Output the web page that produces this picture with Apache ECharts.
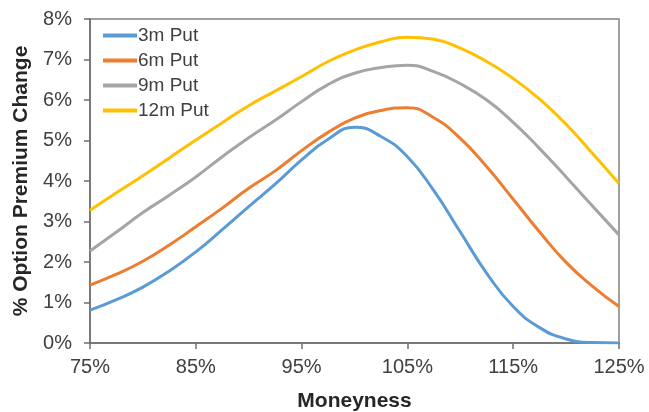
<!DOCTYPE html>
<html>
<head>
<meta charset="utf-8">
<script src="https://cdn.jsdelivr.net/npm/echarts@6/dist/echarts.min.js"></script>
<style>
  html, body { margin: 0; padding: 0; background: #fff; }
  #chart { width: 649px; height: 412px; }
</style>
</head>
<body>
<div id="chart"></div>
<script>
// Moneyness grid (% of spot), step 2.5
const moneyness = [75, 77.5, 80, 82.5, 85, 87.5, 90, 92.5, 95, 97.5, 100, 102.5, 105, 107.5, 110, 112.5, 115, 117.5, 120, 122.5, 125];

// Option premium change (%) per maturity
const put3m  = [0.81, 1.07, 1.38, 1.78, 2.25, 2.80, 3.37, 3.92, 4.52, 5.03, 5.33, 5.10, 4.60, 3.76, 2.74, 1.72, 0.90, 0.38, 0.10, 0.01, 0.00];
const put6m  = [1.43, 1.70, 2.02, 2.42, 2.87, 3.33, 3.82, 4.25, 4.75, 5.20, 5.55, 5.74, 5.81, 5.56, 5.05, 4.35, 3.55, 2.74, 1.99, 1.40, 0.90];
const put9m  = [2.27, 2.74, 3.22, 3.65, 4.10, 4.60, 5.07, 5.50, 5.96, 6.38, 6.66, 6.80, 6.86, 6.70, 6.40, 6.00, 5.45, 4.80, 4.10, 3.38, 2.67];
const put12m = [3.28, 3.71, 4.13, 4.57, 5.01, 5.44, 5.86, 6.22, 6.58, 6.95, 7.23, 7.44, 7.55, 7.50, 7.28, 6.95, 6.53, 6.02, 5.40, 4.68, 3.94];

const seriesNames = ['3m Put', '6m Put', '9m Put', '12m Put'];
const seriesColors = ['#5B9BD5', '#ED7D31', '#A5A5A5', '#FFC000'];
const seriesData = [put3m, put6m, put9m, put12m];

const chart = echarts.init(document.getElementById('chart'));
const textColor = '#404040';
const font = 'Liberation Sans, Arial, sans-serif';

chart.setOption({
  animation: false,
  backgroundColor: '#fff',
  grid: {
    left: 90, right: 30, top: 19, bottom: 69,
    containLabel: false,
    outerBoundsMode: 'none',
    show: true, borderColor: '#808080', borderWidth: 1.5
  },
  legend: {
    left: 98, top: 21,
    orient: 'vertical',
    itemWidth: 34, itemHeight: 4, itemGap: 6,
    icon: 'rect',
    textStyle: { color: textColor, fontSize: 19, fontFamily: font, padding: [0, 0, 0, -4] },
    data: seriesNames
  },
  xAxis: {
    type: 'category',
    data: moneyness,
    boundaryGap: false,
    name: 'Moneyness',
    nameLocation: 'middle',
    nameGap: 48,
    nameTextStyle: { color: '#262626', fontSize: 21, fontWeight: 'bold', fontFamily: font },
    axisLine: { lineStyle: { color: '#6e6e6e', width: 1.5 } },
    axisTick: { interval: 3, length: 6, lineStyle: { color: '#6e6e6e', width: 1.5 } },
    axisLabel: {
      interval: 3, margin: 14,
      color: textColor, fontSize: 20, fontFamily: font,
      formatter: v => v + '%'
    },
    splitLine: { show: false }
  },
  yAxis: {
    type: 'value',
    min: 0, max: 8, interval: 1,
    name: '% Option Premium Change',
    nameLocation: 'middle',
    nameGap: 55,
    nameTextStyle: { color: '#262626', fontSize: 21, fontWeight: 'bold', fontFamily: font },
    axisLine: { show: true, lineStyle: { color: '#6e6e6e', width: 1.5 } },
    axisTick: { show: true, length: 6, lineStyle: { color: '#6e6e6e', width: 1.5 } },
    axisLabel: { color: textColor, fontSize: 20, fontFamily: font, margin: 18, formatter: v => v + '%' },
    splitLine: { show: false }
  },
  series: seriesNames.map((name, i) => ({
    name,
    type: 'line',
    data: seriesData[i],
    smooth: true,
    showSymbol: false,
    symbol: 'none',
    lineStyle: { color: seriesColors[i], width: 3 },
    itemStyle: { color: seriesColors[i] },
    z: 2 + i
  }))
});
</script>
</body>
</html>
